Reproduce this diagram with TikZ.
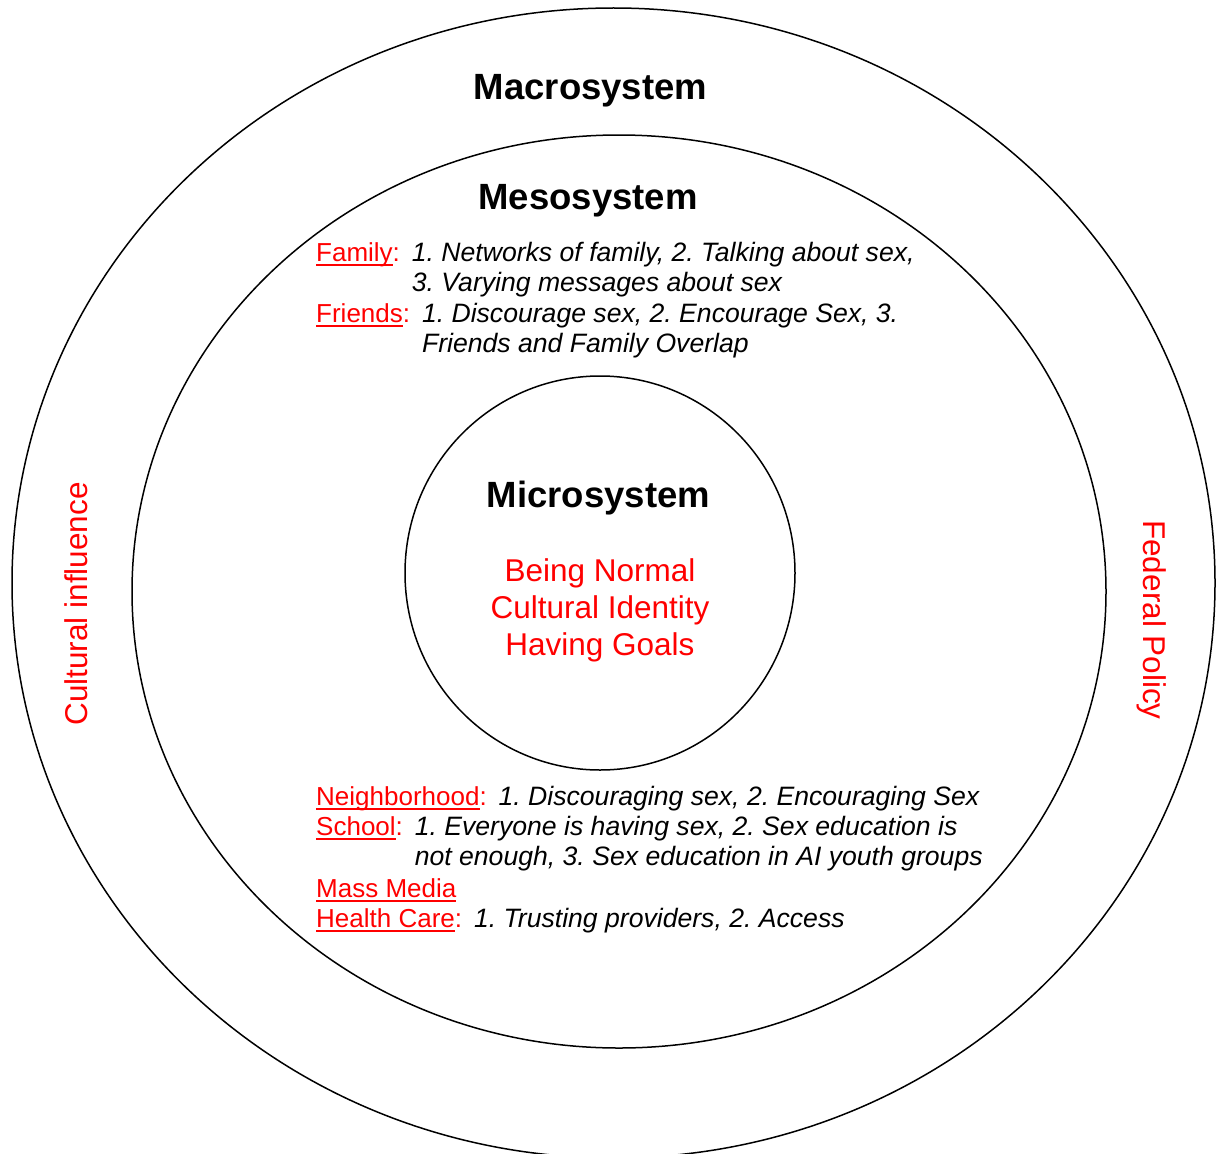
\documentclass[tikz,border=0pt]{standalone}
\usepackage{fontspec}
\setmainfont{Liberation Sans}
\usetikzlibrary{positioning}
\usetikzlibrary{shapes.geometric}
\definecolor{labelRed}{RGB}{255, 0, 0}
\frenchspacing

\newcommand{\lblline}[1]{\setbox0\hbox{#1}\rlap{\rule[-5.3pt]{\wd0}{2pt}}\box0}
\newcommand{\linepair}[2]{\vtop{\hbox{#1}\hbox{#2}}}

\tikzset{
  ring/.style={draw, ellipse, line width=1.5pt, inner sep=0pt},
  heading/.style={inner sep=0pt, anchor=base,
                  font=\fontsize{36.5}{42}\selectfont\bfseries},
  entry/.style={text=labelRed, inner sep=0pt, anchor=base west,
                font=\fontsize{26}{30.5}\selectfont},
  detail/.style={inner sep=0pt,
                 font=\fontsize{26.6}{30.5}\selectfont\itshape},
  side/.style={text=labelRed, inner sep=0pt, anchor=base,
               font=\fontsize{31.5}{37}\selectfont},
}

\begin{document}
\begin{tikzpicture}[x=1pt, y=-1pt]
      \useasboundingbox (0,0) rectangle (1217,1153);

      \node [ring, minimum width=1203, minimum height=1150] (macro)
            at (613.5,583) {};
      \node [ring, minimum width=974, minimum height=913] (meso)
            at (619,591.5) {};
      \node [ring, minimum width=390, minimum height=394] (micro)
            at (600,573) {};

      \node [heading] (macrotitle) at (590.5,99.5) {Macrosystem};
      \node [heading] (mesotitle) at (588,209) {Mesosystem};
      \node [heading] (microtitle) at (598.5,507) {Microsystem};

      \node [side, align=center, anchor=north] (core) at (600,558.5)
            {Being Normal\\Cultural Identity\\Having Goals};

      \node [side, rotate=90] (culture) at (87,604) {Cultural influence};
      \node [side, rotate=-90] (federal) at (1143,620) {Federal Policy};

      % mesosystem, upper part
      \node [entry] (family) at (316,261) {\lblline{Family}:};
      \node [detail, right=11.5pt of family.base east, anchor=base west]
            (familytext)
            {\linepair{1. Networks of family, 2. Talking about sex,}
                      {3. Varying messages about sex}};
      \node [entry] (friends) at (316,322) {\lblline{Friends}:};
      \node [detail, right=11.5pt of friends.base east, anchor=base west]
            (friendstext)
            {\linepair{1. Discourage sex, 2. Encourage Sex, 3.}
                      {Friends and Family Overlap}};

      % mesosystem, lower part
      \node [entry] (hood) at (316,805) {\lblline{Neighborhood}:};
      \node [detail, right=11.5pt of hood.base east, anchor=base west]
            (hoodtext) {1. Discouraging sex, 2. Encouraging Sex};
      \node [entry] (school) at (316,835) {\lblline{School}:};
      \node [detail, right=11.5pt of school.base east, anchor=base west]
            (schooltext)
            {\linepair{1. Everyone is having sex, 2. Sex education is}
                      {not enough, 3. Sex education in AI youth groups}};
      \node [entry] (media) at (316,897) {\lblline{Mass Media}};
      \node [entry] (health) at (316,927) {\lblline{Health Care}:};
      \node [detail, right=11.5pt of health.base east, anchor=base west]
            (healthtext) {1. Trusting providers, 2. Access};
\end{tikzpicture}
\end{document}
